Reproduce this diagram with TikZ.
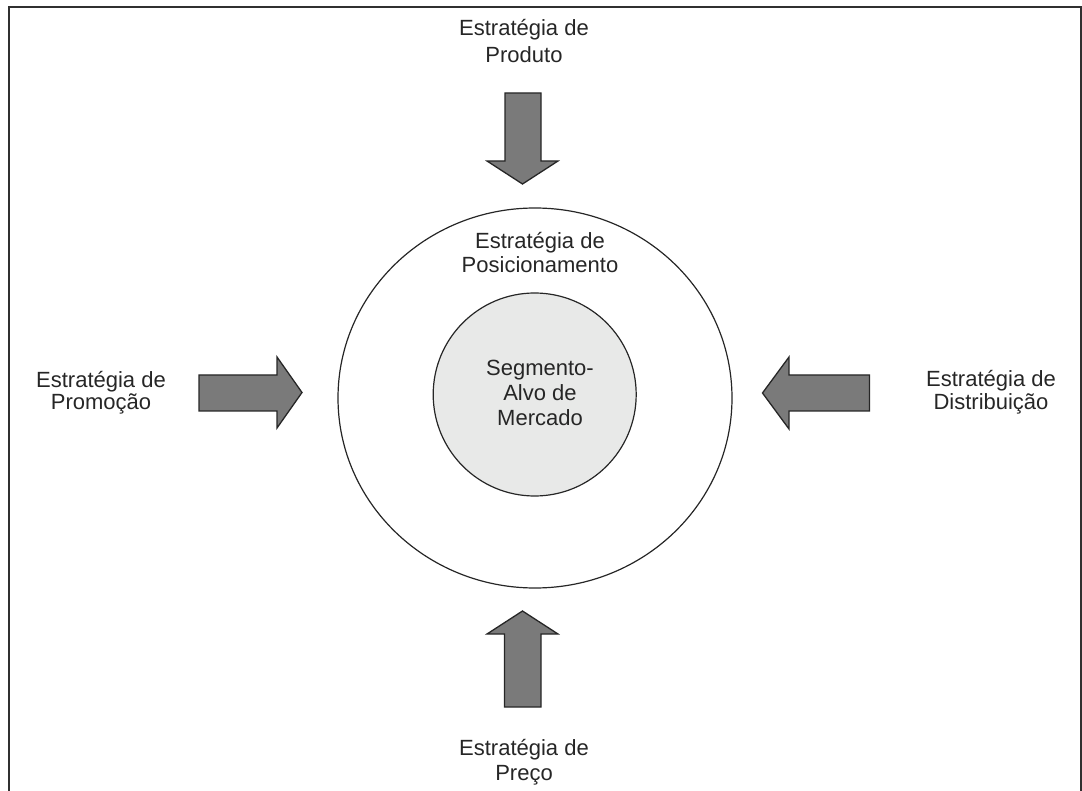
\documentclass[tikz,border=0pt]{standalone}
\usepackage{fontspec}
\setmainfont{Liberation Sans}
\usetikzlibrary{shapes.geometric}
\definecolor{txt}{HTML}{262626}
\definecolor{arrowfill}{HTML}{7A7A7A}
\definecolor{arrowline}{HTML}{262626}
\definecolor{innerfill}{HTML}{E8E9E8}
\definecolor{framecol}{HTML}{303030}
\begin{document}
\begin{tikzpicture}[x=1pt,y=-1pt,
  lbl/.style={font=\fontsize{22}{#1}\selectfont, text=txt, align=center, anchor=base, inner sep=0pt},
  lbl/.default=25,
  fatarrow/.style={draw=arrowline, fill=arrowfill, line width=1.3pt, line join=miter},
  ring/.style={draw=arrowline, line width=1.2pt, inner sep=0pt},
  frame/.style={draw=framecol, line width=2pt},
]
\useasboundingbox (0,0) rectangle (1082,791);
% frame
\draw[frame] (8.5,791) -- (8.5,7) -- (1080.5,7) -- (1080.5,791);
% circles
\node (pos) [ring, ellipse, minimum width=394, minimum height=380] at (535,398) {};
\node (seg) [ring, circle, fill=innerfill, minimum size=203] at (534.7,394.5) {};
% arrows
\draw[fatarrow] (505,93) -- (541,93) -- (541,161) -- (558,161) -- (522.5,184) -- (487,161) -- (505,161) -- cycle;
\draw[fatarrow] (504.5,707) -- (541,707) -- (541,634) -- (558,634) -- (522.5,611) -- (487,634) -- (504.5,634) -- cycle;
\draw[fatarrow] (199,375) -- (277,375) -- (277,357) -- (302,392.5) -- (277,428) -- (277,411) -- (199,411) -- cycle;
\draw[fatarrow] (869.5,375) -- (789,375) -- (789,357) -- (762.5,393) -- (789,429) -- (789,411) -- (869.5,411) -- cycle;
% labels (base anchor = baseline of the last line)
\node[lbl=26.7] (produto) at (524,62.3) {Estratégia de\\Produto};
\node[lbl=23.7] (posic) at (540,272.7) {Estratégia de\\Posicionamento};
\node[lbl=22.7] (promo) at (101,410) {Estratégia de\\Promoção};
\node[lbl=24] (distr) at (991,410) {Estratégia de\\Distribuição};
\node[lbl=25] (preco) at (524,780) {Estratégia de\\Preço};
\node[lbl=25] (segtxt) at (540,425.7) {Segmento-\\Alvo de\\Mercado};
\end{tikzpicture}
\end{document}
